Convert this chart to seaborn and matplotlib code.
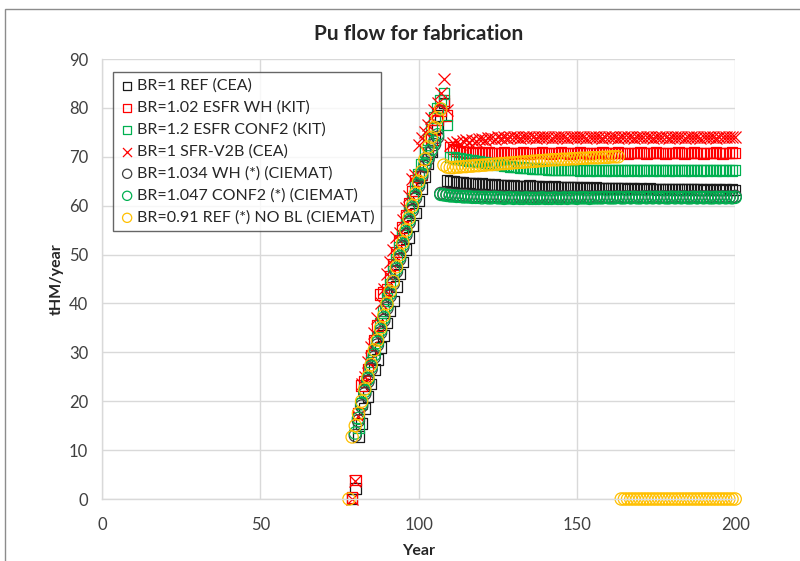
import matplotlib.pyplot as plt
import numpy as np
import pandas as pd
import seaborn as sns
from matplotlib.patches import Rectangle


# Data: first year of each series, then one value per year up to 200
ref_cea_start = 79
ref_cea = [
    0.0, 2.2, 12.8, 15.5, 18.5, 21.0, 23.5, 26.5, 28.5, 31.0,
    33.5, 36.0, 38.5, 40.5, 43.5, 46.0, 48.5, 51.0, 53.5, 56.0,
    58.5, 61.0, 63.5, 66.0, 68.5, 71.0, 73.5, 76.0, 78.5, 81.0,
    65.2, 65.0, 64.9, 64.8, 64.8, 64.7, 64.6, 64.6, 64.5, 64.5,
    64.4, 64.5, 64.4, 64.3, 64.2, 64.3, 64.2, 64.1, 64.2, 64.1,
    64.0, 64.1, 64.0, 64.0, 63.9, 64.0, 64.1, 64.0, 63.9, 63.9,
    63.8, 63.9, 63.8, 63.8, 63.9, 63.8, 63.7, 63.8, 63.7, 63.7,
    63.8, 63.7, 63.6, 63.7, 63.7, 63.6, 63.6, 63.7, 63.6, 63.5,
    63.6, 63.6, 63.5, 63.5, 63.6, 63.5, 63.5, 63.4, 63.5, 63.5,
    63.4, 63.5, 63.4, 63.4, 63.5, 63.4, 63.4, 63.3, 63.4, 63.4,
    63.3, 63.4, 63.3, 63.3, 63.4, 63.3, 63.3, 63.4, 63.3, 63.3,
    63.3, 63.2, 63.3, 63.3, 63.2, 63.3, 63.3, 63.2, 63.3, 63.2,
    63.3, 63.2,
]

esfr_wh_kit_start = 79
esfr_wh_kit = [
    0.3, 3.9, 17.5, 23.2, 24.0, 26.5, 29.5, 32.5, 35.5, 41.8,
    42.2, 42.8, 45.5, 48.0, 50.5, 53.0, 55.5, 58.0, 60.5, 63.0,
    65.2, 66.0, 66.4, 68.5, 71.0, 73.5, 75.5, 77.5, 79.5, 81.5,
    78.5,
    72.0, 71.6, 71.3, 71.1, 71.0, 70.9, 70.9, 70.8, 70.8, 70.9,
    70.8, 70.8, 70.9, 70.8, 70.7, 70.8, 70.8, 70.9, 70.8, 70.8,
    70.7, 70.8, 70.8, 70.9, 70.8, 70.7, 70.8, 70.8, 70.8, 70.9,
    70.8, 70.8, 70.7, 70.8, 70.8, 70.9, 70.8, 70.8, 70.7, 70.8,
    70.8, 70.9, 70.8, 70.8, 70.7, 70.8, 70.8, 70.8, 70.9, 70.8,
    70.7, 70.8, 70.8, 70.9, 70.8, 70.8, 70.7, 70.8, 70.8, 70.8,
    70.9, 70.8, 70.7, 70.8, 70.8, 70.9, 70.8, 70.8, 70.7, 70.8,
    70.8, 70.8, 70.9, 70.8, 70.7, 70.8, 70.8, 70.9, 70.8, 70.8,
    70.7, 70.8, 70.8, 70.8, 70.9, 70.8, 70.7, 70.8, 70.8, 70.9,
    70.8,
]

esfr_conf2_kit_start = 81
esfr_conf2_kit = [
    14.5, 19.5, 22.5, 25.0, 28.0, 30.5, 33.0, 36.0, 38.5, 41.0,
    44.0, 46.5, 49.0, 51.5, 54.0, 56.5, 59.0, 61.5, 64.0, 66.5,
    68.5, 71.0, 73.5, 76.0, 78.0, 80.0, 81.5, 83.0, 76.5,
    70.0, 69.8, 69.7, 69.6, 69.5, 69.4, 69.3, 69.2, 69.1, 69.0,
    68.9, 68.8, 68.7, 68.6, 68.5, 68.4, 68.3, 68.2, 68.1, 68.0,
    67.9, 67.9, 67.8, 67.8, 67.7, 67.7, 67.6, 67.6, 67.5, 67.5,
    67.5, 67.4, 67.4, 67.4, 67.4, 67.3, 67.3, 67.3, 67.3, 67.3,
    67.3, 67.2, 67.3, 67.3, 67.2, 67.3, 67.2, 67.3, 67.3, 67.2,
    67.3, 67.2, 67.3, 67.3, 67.2, 67.3, 67.2, 67.3, 67.3, 67.2,
    67.3, 67.2, 67.3, 67.3, 67.2, 67.3, 67.2, 67.3, 67.3, 67.2,
    67.3, 67.2, 67.3, 67.3, 67.2, 67.3, 67.2, 67.3, 67.3, 67.2,
    67.3, 67.2, 67.3, 67.3, 67.2, 67.3, 67.2, 67.3, 67.3, 67.2,
    67.3,
]

sfr_v2b_cea_start = 79
sfr_v2b_cea = [
    0.0, 3.6, 17.0, 23.5, 25.0, 28.0, 31.0, 34.0, 37.0, 40.0,
    43.0, 46.0, 48.5, 51.0, 53.5, 54.5, 57.0, 59.5, 62.0, 65.5,
    66.2, 72.5, 73.8, 75.0, 76.5, 78.0, 79.5, 81.0, 83.0, 86.0,
    79.5,
    72.5, 72.8, 73.0, 72.7, 73.2, 73.4, 73.1, 73.5, 73.3, 73.6,
    73.7, 73.5, 73.8, 73.9, 73.7, 74.0, 73.9, 74.1, 73.9, 74.0,
    74.0, 74.1, 73.9, 74.0, 74.0, 74.1, 74.0, 73.9, 74.0, 74.1,
    74.0, 74.0, 73.9, 74.0, 74.1, 74.0, 74.0, 73.9, 74.0, 74.1,
    74.0, 74.0, 74.1, 73.9, 74.0, 74.0, 74.1, 74.0, 73.9, 74.0,
    74.1, 74.0, 74.0, 73.9, 74.0, 74.1, 74.0, 74.0, 73.9, 74.0,
    74.1, 74.0, 74.0, 74.1, 73.9, 74.0, 74.0, 74.1, 74.0, 73.9,
    74.0, 74.1, 74.0, 74.0, 73.9, 74.0, 74.1, 74.0, 74.0, 73.9,
    74.0, 74.1, 74.0, 74.0, 73.9, 74.0, 74.1, 74.0, 74.0, 74.1,
    74.0,
]

wh_ciemat_start = 80
wh_ciemat = [
    13.0, 16.0, 19.0, 21.5, 24.0, 26.5, 29.0, 31.5, 34.0, 36.5,
    39.0, 41.5, 44.0, 46.5, 49.0, 51.5, 54.0, 56.5, 59.0, 61.5,
    64.0, 66.0, 68.0, 69.5, 71.0, 72.5, 74.0,
    62.5, 62.4, 62.3, 62.2, 62.1, 62.1, 62.0, 62.0, 62.0, 61.9,
    61.9, 61.9, 61.8, 61.9, 61.8, 61.8, 61.9, 61.8, 61.8, 61.8,
    61.8, 61.7, 61.8, 61.8, 61.7, 61.8, 61.8, 61.7, 61.8, 61.8,
    61.7, 61.8, 61.8, 61.7, 61.8, 61.8, 61.7, 61.8, 61.8, 61.7,
    61.8, 61.8, 61.7, 61.8, 61.8, 61.7, 61.8, 61.8, 61.7, 61.8,
    61.8, 61.7, 61.8, 61.8, 61.7, 61.8, 61.8, 61.7, 61.8, 61.8,
    61.7, 61.8, 61.8, 61.7, 61.8, 61.8, 61.7, 61.8, 61.8, 61.7,
    61.8, 61.8, 61.7, 61.8, 61.8, 61.7, 61.8, 61.8, 61.7, 61.8,
    61.8, 61.7, 61.8, 61.8, 61.7, 61.8, 61.8, 61.7, 61.8, 61.8,
    61.8, 61.7, 61.8, 61.9,
]

conf2_ciemat_start = 80
conf2_ciemat = [
    13.5, 16.5, 19.5, 22.0, 24.5, 27.0, 29.5, 32.0, 34.5, 37.0,
    39.5, 42.0, 44.5, 47.0, 49.5, 52.0, 54.5, 57.0, 59.5, 62.0,
    64.5, 66.5, 68.5, 70.0, 71.5, 73.0, 74.5,
    62.3, 62.2, 62.1, 62.0, 62.0, 61.9, 61.9, 61.8, 61.8, 61.8,
    61.7, 61.7, 61.7, 61.6, 61.7, 61.6, 61.6, 61.7, 61.6, 61.6,
    61.5, 61.6, 61.6, 61.5, 61.6, 61.5, 61.5, 61.6, 61.5, 61.5,
    61.5, 61.5, 61.6, 61.5, 61.5, 61.5, 61.6, 61.5, 61.5, 61.6,
    61.5, 61.6, 61.6, 61.5, 61.6, 61.6, 61.6, 61.5, 61.6, 61.6,
    61.6, 61.6, 61.7, 61.6, 61.6, 61.6, 61.7, 61.6, 61.6, 61.7,
    61.6, 61.7, 61.6, 61.6, 61.7, 61.6, 61.7, 61.6, 61.7, 61.6,
    61.7, 61.6, 61.6, 61.7, 61.6, 61.7, 61.6, 61.7, 61.6, 61.6,
    61.7, 61.6, 61.7, 61.6, 61.7, 61.6, 61.6, 61.7, 61.6, 61.7,
    61.6, 61.7, 61.6, 61.7,
]

ref_nobl_ciemat_start = 78
ref_nobl_ciemat = [
    0.0, 12.7, 15.0, 17.5, 20.0, 22.5, 25.0, 27.5, 30.5, 32.5,
    35.0, 37.5, 40.0, 42.5, 44.5, 47.5, 50.0, 52.5, 55.0, 57.5,
    60.0, 62.5, 65.0, 67.0, 69.5, 72.0, 74.0, 76.0, 78.0, 79.8,
    68.3, 67.9, 67.8, 67.8, 67.9, 67.9, 68.0, 68.0, 68.1, 68.1,
    68.2, 68.2, 68.3, 68.3, 68.4, 68.4, 68.5, 68.5, 68.6, 68.6,
    68.7, 68.7, 68.8, 68.8, 68.9, 68.9, 69.0, 69.0, 69.1, 69.1,
    69.2, 69.2, 69.3, 69.3, 69.4, 69.4, 69.4, 69.5, 69.5, 69.5,
    69.6, 69.6, 69.6, 69.7, 69.7, 69.7, 69.8, 69.8, 69.8, 69.8,
    69.9, 69.9, 69.9, 70.0, 70.0, 70.0,
    0.0, 0.0, 0.0, 0.0, 0.0, 0.0, 0.0, 0.0, 0.0, 0.0,
    0.0, 0.0, 0.0, 0.0, 0.0, 0.0, 0.0, 0.0, 0.0, 0.0,
    0.0, 0.0, 0.0, 0.0, 0.0, 0.0, 0.0, 0.0, 0.0, 0.0,
    0.0, 0.0, 0.0, 0.0, 0.0, 0.0, 0.0,
]

X_TICKS = [0, 50, 100, 150, 200]
Y_TICKS = [0, 10, 20, 30, 40, 50, 60, 70, 80, 90]

# label, start year, values, marker, colour, size
series = [
    ("BR=1 REF (CEA)", ref_cea_start, ref_cea, "s", "#1a1a1a", 58),
    ("BR=1.02 ESFR WH (KIT)", esfr_wh_kit_start, esfr_wh_kit, "s", "#ff0000", 58),
    ("BR=1.2 ESFR CONF2 (KIT)", esfr_conf2_kit_start, esfr_conf2_kit, "s", "#00b050", 58),
    ("BR=1 SFR-V2B (CEA)", sfr_v2b_cea_start, sfr_v2b_cea, "x", "#ff0000", 75),
    ("BR=1.034 WH (*) (CIEMAT)", wh_ciemat_start, wh_ciemat, "o", "#404040", 78),
    ("BR=1.047 CONF2 (*) (CIEMAT)", conf2_ciemat_start, conf2_ciemat, "o", "#00b050", 78),
    ("BR=0.91 REF (*) NO BL (CIEMAT)", ref_nobl_ciemat_start, ref_nobl_ciemat, "o", "#ffc000", 78),
]


sns.set_style("white")
plt.rcParams["font.family"] = ["Lato", "DejaVu Sans"]

fig = plt.figure(figsize=(8, 5.61), dpi=100)
ax = fig.add_axes([0.1275, 0.1105, 0.7915, 0.7843])

for label, start, values, marker, color, size in series:
    df = pd.DataFrame({"Year": np.arange(start, start + len(values)), "Pu": values})
    if marker == "x":
        sns.scatterplot(data=df, x="Year", y="Pu", marker=marker, s=size,
                        color=color, linewidth=0.9, label=label, ax=ax, clip_on=False)
    else:
        sns.scatterplot(data=df, x="Year", y="Pu", marker=marker, s=size,
                        facecolors="none", edgecolor=color, linewidth=0.9,
                        label=label, ax=ax, clip_on=False)

ax.set_xlim(0, 200)
ax.set_ylim(0, 90)
ax.set_xticks(X_TICKS)
ax.set_yticks(Y_TICKS)
ax.grid(True, color="#d9d9d9", linewidth=1.0)
ax.set_axisbelow(True)
for side in ["top", "right"]:
    ax.spines[side].set_visible(False)
for side in ["left", "bottom"]:
    ax.spines[side].set_color("#d9d9d9")
    ax.spines[side].set_linewidth(1.0)
ax.tick_params(axis="both", length=4, color="#d9d9d9", labelsize=12,
               labelcolor="#404040", pad=6)
ax.tick_params(axis="x", pad=9)

ax.set_title("Pu flow for fabrication", fontsize=15, fontweight="bold", pad=14)
ax.set_xlabel("Year", fontsize=11.5, fontweight="bold", labelpad=8)
ax.set_ylabel("tHM/year", fontsize=11.5, fontweight="bold", labelpad=4)

leg = ax.legend(loc="upper left", bbox_to_anchor=(0.017, 0.970), borderaxespad=0,
                fontsize=11.5, frameon=True, fancybox=False, markerscale=0.75,
                handletextpad=0.1, handlelength=1.0, labelspacing=0.48,
                borderpad=0.4)
leg.get_frame().set_edgecolor("#404040")
leg.get_frame().set_linewidth(1.0)
for txt in leg.get_texts():
    txt.set_color("#262626")

# Excel-style chart area border
fig.patches.append(Rectangle((0.00625, -0.1), 1.2, 1.084, transform=fig.transFigure,
                             fill=False, edgecolor="#8c8c8c", linewidth=1.0))

fig.savefig("out.png", dpi=100)
